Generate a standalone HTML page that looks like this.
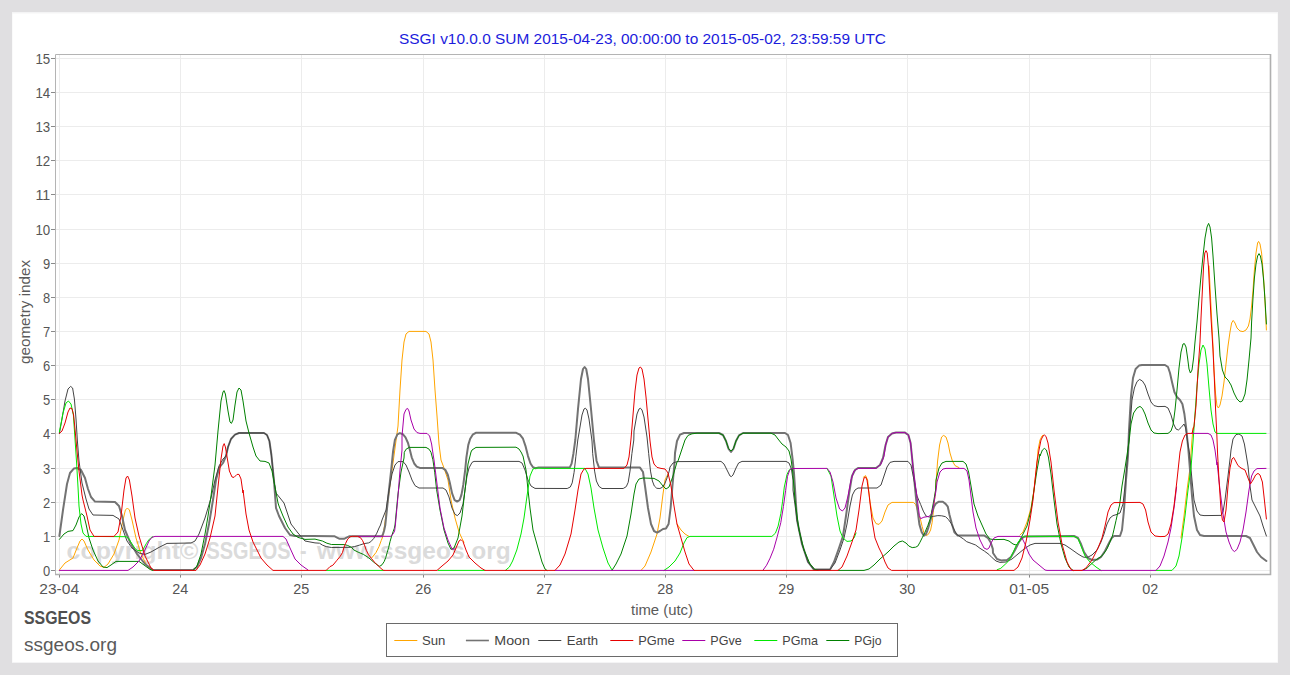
<!DOCTYPE html><html><head><meta charset="utf-8"><title>SSGI</title><style>html,body{margin:0;padding:0;background:#e0dfe1;width:1290px;height:675px;overflow:hidden;font-family:"Liberation Sans",sans-serif}</style></head><body><svg width="1290" height="675" viewBox="0 0 1290 675" style="position:absolute;left:0;top:0;font-family:'Liberation Sans',sans-serif">
<rect x="12" y="12" width="1266" height="651" fill="#f4f4f5"/>
<rect x="12.5" y="13.5" width="1265" height="648.5" fill="#ffffff"/>
<line x1="56" y1="570.5" x2="1271" y2="570.5" stroke="#ececec" stroke-width="1"/>
<line x1="56" y1="536.5" x2="1271" y2="536.5" stroke="#ececec" stroke-width="1"/>
<line x1="56" y1="502.5" x2="1271" y2="502.5" stroke="#ececec" stroke-width="1"/>
<line x1="56" y1="468.5" x2="1271" y2="468.5" stroke="#ececec" stroke-width="1"/>
<line x1="56" y1="433.5" x2="1271" y2="433.5" stroke="#ececec" stroke-width="1"/>
<line x1="56" y1="399.5" x2="1271" y2="399.5" stroke="#ececec" stroke-width="1"/>
<line x1="56" y1="365.5" x2="1271" y2="365.5" stroke="#ececec" stroke-width="1"/>
<line x1="56" y1="331.5" x2="1271" y2="331.5" stroke="#ececec" stroke-width="1"/>
<line x1="56" y1="297.5" x2="1271" y2="297.5" stroke="#ececec" stroke-width="1"/>
<line x1="56" y1="263.5" x2="1271" y2="263.5" stroke="#ececec" stroke-width="1"/>
<line x1="56" y1="229.5" x2="1271" y2="229.5" stroke="#ececec" stroke-width="1"/>
<line x1="56" y1="194.5" x2="1271" y2="194.5" stroke="#ececec" stroke-width="1"/>
<line x1="56" y1="160.5" x2="1271" y2="160.5" stroke="#ececec" stroke-width="1"/>
<line x1="56" y1="126.5" x2="1271" y2="126.5" stroke="#ececec" stroke-width="1"/>
<line x1="56" y1="92.5" x2="1271" y2="92.5" stroke="#ececec" stroke-width="1"/>
<line x1="56" y1="58.5" x2="1271" y2="58.5" stroke="#ececec" stroke-width="1"/>
<line x1="59.5" y1="55" x2="59.5" y2="574" stroke="#ececec" stroke-width="1"/>
<line x1="180.5" y1="55" x2="180.5" y2="574" stroke="#ececec" stroke-width="1"/>
<line x1="301.5" y1="55" x2="301.5" y2="574" stroke="#ececec" stroke-width="1"/>
<line x1="423.5" y1="55" x2="423.5" y2="574" stroke="#ececec" stroke-width="1"/>
<line x1="544.5" y1="55" x2="544.5" y2="574" stroke="#ececec" stroke-width="1"/>
<line x1="665.5" y1="55" x2="665.5" y2="574" stroke="#ececec" stroke-width="1"/>
<line x1="786.5" y1="55" x2="786.5" y2="574" stroke="#ececec" stroke-width="1"/>
<line x1="907.5" y1="55" x2="907.5" y2="574" stroke="#ececec" stroke-width="1"/>
<line x1="1029.5" y1="55" x2="1029.5" y2="574" stroke="#ececec" stroke-width="1"/>
<line x1="1150.5" y1="55" x2="1150.5" y2="574" stroke="#ececec" stroke-width="1"/>
<text x="66.6" y="558.5" font-size="24" font-weight="bold" fill="#dbdbdb" textLength="131.8" lengthAdjust="spacingAndGlyphs">copyright©</text>
<text x="206.6" y="558.5" font-size="24" font-weight="bold" fill="#dbdbdb" textLength="84.0" lengthAdjust="spacingAndGlyphs">SSGEOS</text>
<text x="300.0" y="558.5" font-size="24" font-weight="bold" fill="#dbdbdb" textLength="6.5" lengthAdjust="spacingAndGlyphs">-</text>
<text x="317.0" y="558.5" font-size="24" font-weight="bold" fill="#dbdbdb" textLength="193.8" lengthAdjust="spacingAndGlyphs">www.ssgeos.org</text>
<path d="M55.5 574.5V54.5H1270.5" fill="none" stroke="#b4b4b4" stroke-width="1"/>
<path d="M1270.5 54V574.5H55" fill="none" stroke="#b0b0b0" stroke-width="1.6"/>
<line x1="51" y1="570.5" x2="55" y2="570.5" stroke="#8a8a8a" stroke-width="1"/>
<text x="50.2" y="575.8" font-size="15" fill="#555" text-anchor="end" textLength="7.2" lengthAdjust="spacingAndGlyphs">0</text>
<line x1="51" y1="536.5" x2="55" y2="536.5" stroke="#8a8a8a" stroke-width="1"/>
<text x="50.2" y="541.8" font-size="15" fill="#555" text-anchor="end" textLength="7.2" lengthAdjust="spacingAndGlyphs">1</text>
<line x1="51" y1="502.5" x2="55" y2="502.5" stroke="#8a8a8a" stroke-width="1"/>
<text x="50.2" y="507.8" font-size="15" fill="#555" text-anchor="end" textLength="7.2" lengthAdjust="spacingAndGlyphs">2</text>
<line x1="51" y1="468.5" x2="55" y2="468.5" stroke="#8a8a8a" stroke-width="1"/>
<text x="50.2" y="473.8" font-size="15" fill="#555" text-anchor="end" textLength="7.2" lengthAdjust="spacingAndGlyphs">3</text>
<line x1="51" y1="433.5" x2="55" y2="433.5" stroke="#8a8a8a" stroke-width="1"/>
<text x="50.2" y="438.8" font-size="15" fill="#555" text-anchor="end" textLength="7.2" lengthAdjust="spacingAndGlyphs">4</text>
<line x1="51" y1="399.5" x2="55" y2="399.5" stroke="#8a8a8a" stroke-width="1"/>
<text x="50.2" y="404.8" font-size="15" fill="#555" text-anchor="end" textLength="7.2" lengthAdjust="spacingAndGlyphs">5</text>
<line x1="51" y1="365.5" x2="55" y2="365.5" stroke="#8a8a8a" stroke-width="1"/>
<text x="50.2" y="370.8" font-size="15" fill="#555" text-anchor="end" textLength="7.2" lengthAdjust="spacingAndGlyphs">6</text>
<line x1="51" y1="331.5" x2="55" y2="331.5" stroke="#8a8a8a" stroke-width="1"/>
<text x="50.2" y="336.8" font-size="15" fill="#555" text-anchor="end" textLength="7.2" lengthAdjust="spacingAndGlyphs">7</text>
<line x1="51" y1="297.5" x2="55" y2="297.5" stroke="#8a8a8a" stroke-width="1"/>
<text x="50.2" y="302.8" font-size="15" fill="#555" text-anchor="end" textLength="7.2" lengthAdjust="spacingAndGlyphs">8</text>
<line x1="51" y1="263.5" x2="55" y2="263.5" stroke="#8a8a8a" stroke-width="1"/>
<text x="50.2" y="268.8" font-size="15" fill="#555" text-anchor="end" textLength="7.2" lengthAdjust="spacingAndGlyphs">9</text>
<line x1="51" y1="229.5" x2="55" y2="229.5" stroke="#8a8a8a" stroke-width="1"/>
<text x="50.2" y="234.8" font-size="15" fill="#555" text-anchor="end" textLength="14.8" lengthAdjust="spacingAndGlyphs">10</text>
<line x1="51" y1="194.5" x2="55" y2="194.5" stroke="#8a8a8a" stroke-width="1"/>
<text x="50.2" y="199.8" font-size="15" fill="#555" text-anchor="end" textLength="14.8" lengthAdjust="spacingAndGlyphs">11</text>
<line x1="51" y1="160.5" x2="55" y2="160.5" stroke="#8a8a8a" stroke-width="1"/>
<text x="50.2" y="165.8" font-size="15" fill="#555" text-anchor="end" textLength="14.8" lengthAdjust="spacingAndGlyphs">12</text>
<line x1="51" y1="126.5" x2="55" y2="126.5" stroke="#8a8a8a" stroke-width="1"/>
<text x="50.2" y="131.8" font-size="15" fill="#555" text-anchor="end" textLength="14.8" lengthAdjust="spacingAndGlyphs">13</text>
<line x1="51" y1="92.5" x2="55" y2="92.5" stroke="#8a8a8a" stroke-width="1"/>
<text x="50.2" y="97.8" font-size="15" fill="#555" text-anchor="end" textLength="14.8" lengthAdjust="spacingAndGlyphs">14</text>
<line x1="51" y1="58.5" x2="55" y2="58.5" stroke="#8a8a8a" stroke-width="1"/>
<text x="50.2" y="63.8" font-size="15" fill="#555" text-anchor="end" textLength="14.8" lengthAdjust="spacingAndGlyphs">15</text>
<line x1="59.5" y1="575" x2="59.5" y2="577.6" stroke="#8a8a8a" stroke-width="1"/>
<text x="59.2" y="594.2" font-size="15" fill="#555" text-anchor="middle" textLength="39.8" lengthAdjust="spacingAndGlyphs">23-04</text>
<line x1="180.5" y1="575" x2="180.5" y2="577.6" stroke="#8a8a8a" stroke-width="1"/>
<text x="180.2" y="594.2" font-size="15" fill="#555" text-anchor="middle" textLength="16.0" lengthAdjust="spacingAndGlyphs">24</text>
<line x1="301.5" y1="575" x2="301.5" y2="577.6" stroke="#8a8a8a" stroke-width="1"/>
<text x="301.2" y="594.2" font-size="15" fill="#555" text-anchor="middle" textLength="16.0" lengthAdjust="spacingAndGlyphs">25</text>
<line x1="423.5" y1="575" x2="423.5" y2="577.6" stroke="#8a8a8a" stroke-width="1"/>
<text x="423.2" y="594.2" font-size="15" fill="#555" text-anchor="middle" textLength="16.0" lengthAdjust="spacingAndGlyphs">26</text>
<line x1="544.5" y1="575" x2="544.5" y2="577.6" stroke="#8a8a8a" stroke-width="1"/>
<text x="544.2" y="594.2" font-size="15" fill="#555" text-anchor="middle" textLength="16.0" lengthAdjust="spacingAndGlyphs">27</text>
<line x1="665.5" y1="575" x2="665.5" y2="577.6" stroke="#8a8a8a" stroke-width="1"/>
<text x="665.2" y="594.2" font-size="15" fill="#555" text-anchor="middle" textLength="16.0" lengthAdjust="spacingAndGlyphs">28</text>
<line x1="786.5" y1="575" x2="786.5" y2="577.6" stroke="#8a8a8a" stroke-width="1"/>
<text x="786.2" y="594.2" font-size="15" fill="#555" text-anchor="middle" textLength="16.0" lengthAdjust="spacingAndGlyphs">29</text>
<line x1="907.5" y1="575" x2="907.5" y2="577.6" stroke="#8a8a8a" stroke-width="1"/>
<text x="907.2" y="594.2" font-size="15" fill="#555" text-anchor="middle" textLength="16.0" lengthAdjust="spacingAndGlyphs">30</text>
<line x1="1029.5" y1="575" x2="1029.5" y2="577.6" stroke="#8a8a8a" stroke-width="1"/>
<text x="1029.2" y="594.2" font-size="15" fill="#555" text-anchor="middle" textLength="39.8" lengthAdjust="spacingAndGlyphs">01-05</text>
<line x1="1150.5" y1="575" x2="1150.5" y2="577.6" stroke="#8a8a8a" stroke-width="1"/>
<text x="1150.2" y="594.2" font-size="15" fill="#555" text-anchor="middle" textLength="16.0" lengthAdjust="spacingAndGlyphs">02</text>
<clipPath id="c"><rect x="56" y="55" width="1214.5" height="519.5"/></clipPath><g clip-path="url(#c)" fill="none" stroke-linejoin="round" stroke-linecap="round">
<path d="M59.4 570.0 L65.0 563.0 L73.0 558.0 L77.0 548.0 L80.0 541.0 L82.0 539.0 L84.0 541.0 L88.0 550.0 L94.0 560.0 L100.0 566.0 L104.0 567.4 L108.0 564.0 L114.0 554.0 L119.0 540.0 L123.0 520.0 L125.4 510.0 L127.4 508.0 L129.4 510.0 L132.0 520.0 L136.0 538.0 L141.0 554.0 L147.0 566.0 L151.0 570.0 M371.9 557.7 L376.0 552.5 L379.0 546.6 L381.2 540.6 L382.7 536.9 L384.2 528.0 L398.0 426.0 L400.0 390.0 L402.0 360.0 L404.0 342.0 L406.0 334.0 L409.0 331.4 L426.0 331.4 L429.0 334.0 L431.0 342.0 L433.0 360.0 L435.0 390.0 L437.0 416.0 L439.0 444.0 L441.0 460.0 L444.0 468.0 L448.0 480.0 L451.0 500.0 L455.0 518.0 L459.0 532.0 L462.2 538.9 L463.9 542.2 M641.0 570.4 L645.0 566.0 L651.0 552.0 L657.0 534.0 L660.0 518.0 L663.0 494.0 L665.0 480.0 L667.0 476.0 L668.0 474.0 M677.0 524.0 L681.0 530.0 L685.0 534.0 L689.0 536.4 M863.2 477.4 L865.6 475.6 L867.6 480.0 L870.0 502.0 L873.0 518.0 L876.0 523.6 L879.0 524.4 L882.0 521.0 L885.0 512.0 L888.0 505.0 L892.0 502.4 L900.0 502.4 L913.3 502.4 L915.6 504.4 L916.9 508.3 L918.3 513.9 L920.6 520.0 L922.2 526.7 L923.9 532.8 L926.1 535.6 L928.3 534.4 L930.6 530.0 L932.2 522.2 L933.3 512.2 L934.4 501.1 L935.3 493.3 L937.6 461.0 L939.6 445.0 L941.6 437.0 L943.6 435.4 L946.0 437.0 L948.0 443.0 L950.0 453.0 L952.4 461.0 L955.0 465.6 L959.0 467.6 M1020.0 535.0 L1023.0 532.0 L1027.0 522.0 L1031.0 508.0 L1034.0 490.0 L1036.0 472.0 L1037.6 456.0 L1038.0 450.0 L1040.0 440.0 L1042.0 436.0 L1043.0 435.2 M1181.0 538.0 L1184.0 516.0 L1187.0 490.0 L1190.0 468.0 L1191.8 442.0 L1193.0 428.0 M1209.0 266.0 L1210.2 290.0 L1211.6 318.0 L1213.2 350.0 L1214.0 370.0 L1215.6 394.0 L1217.0 406.0 L1218.4 408.0 L1220.0 405.0 L1222.0 396.0 L1224.0 382.0 L1226.0 364.0 L1228.0 346.0 L1230.0 332.0 L1231.6 323.0 L1233.2 320.4 L1235.0 323.0 L1237.0 328.0 L1240.0 331.0 L1243.0 331.6 L1246.0 330.0 L1248.4 326.0 L1250.0 319.0 L1251.6 306.0 L1253.0 290.0 L1254.4 270.0 L1256.0 253.0 L1257.6 243.0 L1258.6 241.4 L1260.0 244.0 L1261.6 253.0 L1263.0 270.0 L1264.4 290.0 L1265.6 314.0 L1266.4 330.0" stroke="#ffa500" stroke-width="1.0"/>
<path d="M59.4 536.0 L63.0 510.0 L67.0 484.0 L70.0 473.0 L74.0 468.4 L77.0 468.0 L81.0 470.0 L85.0 478.0 L88.0 489.0 L91.0 497.0 L95.0 501.6 L115.0 502.0 L119.0 506.0 L122.0 516.0 L125.0 530.0 L130.0 542.0 L137.0 554.0 L145.0 564.0 L153.0 570.0 L193.0 570.0 L197.0 567.0 L201.0 558.0 L205.0 544.0 L209.0 524.0 L213.0 500.0 L216.0 480.0 L219.0 468.0 L223.0 463.0 L226.0 456.0 L228.0 447.0 L231.0 439.0 L235.0 434.6 L239.0 433.0 L264.0 433.0 L267.0 435.0 L269.4 441.0 L271.4 455.0 L274.0 481.0 L276.0 508.0 L279.0 516.0 L285.0 528.0 L290.0 535.0 L295.0 536.0 L313.0 536.0 L334.3 536.2 L336.6 537.3 L339.6 538.8 L344.0 538.8 L347.0 537.3 L349.6 536.2 L382.0 536.2 L383.1 533.9 L384.2 530.2 L385.3 525.0 L387.5 504.0 L389.3 487.2 L391.2 469.8 L393.1 451.1 L394.9 439.9 L397.4 434.3 L399.9 433.1 L403.0 434.3 L405.5 437.4 L408.0 443.0 L409.9 449.9 L411.7 457.3 L414.2 463.5 L416.7 466.6 L419.8 467.9 L442.2 467.9 L445.3 469.8 L447.8 474.7 L449.7 482.2 L452.1 493.4 L454.6 500.2 L457.1 501.5 L459.6 500.2 L461.5 494.6 L463.3 484.7 L465.2 469.8 L466.4 457.3 L468.3 444.9 L470.2 438.7 L472.7 434.7 L475.8 432.8 L516.2 432.8 L519.9 434.7 L523.0 438.7 L525.5 446.1 L528.0 456.1 L530.5 463.5 L533.0 467.3 L535.5 468.3 L538.6 467.6 L569.7 467.6 L571.6 463.6 L573.4 453.7 L575.3 440.0 L578.0 409.0 L581.0 379.0 L583.0 369.0 L584.6 367.0 L586.2 369.0 L588.0 379.0 L591.0 409.0 L594.0 441.0 L596.6 461.0 L599.0 467.6 L640.0 467.6 L643.0 472.0 L645.0 486.0 L648.0 508.0 L651.0 524.0 L654.0 531.0 L657.0 532.6 L660.0 531.0 L663.0 529.0 L666.0 528.6 L668.6 524.0 L670.6 508.0 L672.6 484.0 L674.6 462.0 L675.0 453.0 L677.0 441.0 L680.0 434.6 L684.0 433.0 L719.0 433.0 L723.0 435.0 L726.0 441.0 L728.6 449.0 L731.0 452.0 L733.4 449.0 L736.0 441.0 L739.0 435.4 L743.0 433.0 L785.0 433.0 L788.0 435.0 L790.6 443.0 L792.6 459.0 L794.0 473.0 L797.0 520.0 L802.0 544.0 L808.0 562.0 L814.0 569.6 L830.0 569.6 L834.0 562.0 L839.0 548.0 L843.0 536.0 L846.0 516.0 L849.0 494.0 L852.0 476.0 L855.0 470.0 L858.0 468.0 L876.0 468.0 L880.0 465.0 L883.0 458.0 L885.6 445.0 L888.0 437.0 L892.0 433.4 L896.0 432.6 L905.0 432.6 L908.4 435.0 L910.6 443.0 L912.0 457.0 L913.6 473.0 L916.1 498.9 L917.8 512.2 L919.4 524.4 L921.7 532.2 L923.9 535.6 L926.1 533.9 L928.3 527.8 L930.6 520.0 L932.2 512.2 L933.9 506.7 L936.1 503.3 L938.9 501.7 L942.8 501.7 L945.6 503.9 L947.8 506.7 L949.4 514.4 L951.7 523.3 L954.4 532.2 L957.8 535.6 L984.4 535.6 L987.8 537.8 L990.6 542.2 L992.8 548.9 L993.0 553.0 L997.0 559.0 L1001.0 560.4 L1007.0 560.0 L1011.0 557.0 L1015.0 550.0 L1019.0 542.0 L1022.0 538.0 L1025.0 536.4 L1074.0 536.0 L1078.0 538.0 L1081.0 544.0 L1084.0 552.0 L1088.0 558.0 L1092.0 560.0 L1097.0 559.6 L1101.0 557.0 L1105.0 551.0 L1109.0 543.0 L1112.0 537.6 L1114.0 536.0 L1120.0 536.0 L1122.0 530.0 L1124.0 510.0 L1126.0 480.0 L1128.0 456.0 L1129.0 430.0 L1131.0 396.0 L1133.0 378.0 L1135.6 369.0 L1139.0 365.6 L1142.0 365.0 L1165.0 365.0 L1168.0 367.0 L1170.0 373.0 L1172.0 382.0 L1174.4 392.0 L1177.0 397.0 L1180.0 400.0 L1182.4 404.0 L1184.4 414.0 L1186.4 430.0 L1188.4 450.0 L1190.0 470.0 L1192.0 496.0 L1194.0 516.0 L1197.0 530.0 L1200.0 535.0 L1204.0 536.0 L1246.0 536.0 L1250.0 538.0 L1253.0 544.0 L1257.0 552.0 L1261.0 557.0 L1266.4 561.0" stroke="#737373" stroke-width="2.0"/>
<path d="M59.4 433.4 L62.0 419.0 L65.0 401.0 L68.0 389.0 L70.6 386.4 L72.6 388.0 L74.4 399.0 L76.0 419.0 L77.4 441.0 L79.0 461.0 L82.0 483.0 L86.0 499.0 L89.0 509.0 L93.0 515.0 L113.0 515.4 L119.0 519.0 L123.0 530.0 L127.0 541.0 L132.0 548.0 L139.0 553.0 L145.0 554.4 L151.0 552.0 L159.0 547.4 L167.0 543.4 L191.0 543.0 L195.0 541.0 L199.0 534.0 L205.0 518.0 L211.0 498.0 L215.0 480.0 L219.0 466.0 L223.0 459.0 L226.0 456.0 L228.0 447.0 L231.0 439.0 L235.0 434.6 L239.0 433.0 L264.0 433.0 L267.0 435.0 L269.4 441.0 L271.4 455.0 L274.0 481.0 L276.0 493.0 L280.0 498.0 L284.0 503.0 L287.0 512.0 L291.0 524.0 L298.0 533.0 L305.0 541.0 L315.0 542.9 L319.5 543.2 L322.4 545.1 L326.2 546.6 L331.4 547.5 L350.7 547.3 L354.4 546.6 L359.6 545.1 L364.1 543.6 L368.6 542.9 L370.8 541.7 L373.8 538.4 L376.8 533.2 L379.0 528.0 L380.5 525.0 L382.0 520.0 L386.0 510.0 L389.0 490.0 L392.0 474.0 L395.0 465.0 L398.0 461.6 L403.0 461.6 L406.0 465.0 L409.0 472.0 L412.0 480.0 L415.0 485.6 L419.0 488.0 L443.0 488.0 L446.0 490.0 L449.0 497.0 L452.0 508.0 L455.0 514.4 L457.4 515.6 L460.0 513.0 L463.0 504.0 L465.0 490.0 L467.0 476.0 L469.0 468.0 L472.0 462.4 L474.0 461.4 L519.0 461.4 L522.0 463.0 L525.0 470.0 L528.0 480.0 L531.0 486.0 L535.0 488.4 L567.2 488.5 L570.3 487.0 L572.2 482.9 L574.1 472.3 L575.9 456.2 L577.8 440.0 L579.0 433.0 L582.0 415.0 L584.0 409.0 L585.4 408.2 L587.0 410.0 L589.0 419.0 L592.0 441.0 L592.7 453.7 L594.6 471.1 L596.4 481.0 L598.9 486.3 L602.0 488.5 L623.2 488.5 L626.3 486.6 L628.2 482.3 L630.0 471.1 L631.9 453.7 L633.8 440.0 L634.0 431.0 L637.0 414.0 L639.0 409.0 L640.4 408.2 L642.0 410.0 L644.0 417.0 L647.0 437.0 L648.7 453.7 L650.5 471.1 L652.4 481.0 L654.3 486.0 L656.8 488.3 L659.9 488.5 L662.4 487.3 L664.9 483.5 L667.3 477.3 L669.2 471.1 L670.0 467.0 L673.0 463.0 L677.0 461.6 L721.0 461.4 L724.0 464.0 L727.0 470.0 L730.0 476.0 L731.4 476.6 L733.0 475.0 L736.0 468.0 L738.6 463.0 L742.0 461.4 L786.0 461.4 L789.0 463.0 L791.4 469.0 L793.0 480.0 L793.0 490.0 L797.0 520.0 L802.0 544.0 L808.0 562.0 L814.0 569.6 L830.0 569.6 L835.0 563.0 L840.0 550.0 L844.0 538.0 L847.0 524.0 L850.0 506.0 L852.4 495.0 L855.0 490.0 L858.0 488.0 L877.0 488.0 L881.0 485.0 L884.0 476.0 L887.0 467.0 L890.0 462.4 L894.0 461.4 L908.0 461.4 L911.0 465.0 L914.0 480.0 L917.0 496.0 L920.6 504.4 L923.3 511.1 L926.1 516.1 L930.0 517.2 L933.3 516.4 L937.8 515.6 L941.7 515.8 L945.6 516.7 L948.3 519.4 L951.1 523.3 L954.4 530.0 L956.7 534.4 L960.0 536.7 L963.3 538.9 L966.7 541.7 L971.1 543.3 L975.6 545.0 L980.0 548.3 L984.4 551.1 L988.9 554.4 L992.2 557.8 L996.0 561.0 L1000.0 562.4 L1006.0 562.0 L1012.0 559.0 L1018.0 554.0 L1024.0 549.0 L1030.0 545.0 L1035.0 543.4 L1035.0 543.4 L1060.0 543.4 L1065.0 545.0 L1071.0 549.0 L1078.0 554.0 L1083.0 557.0 L1087.0 557.6 L1092.0 555.0 L1097.0 550.0 L1101.0 542.0 L1104.0 534.0 L1107.0 524.0 L1110.0 518.0 L1113.0 515.6 L1117.0 514.4 L1120.0 513.0 L1123.0 504.0 L1125.0 486.0 L1127.0 462.0 L1130.0 426.0 L1132.0 400.0 L1134.4 388.0 L1137.0 381.6 L1139.6 379.4 L1142.4 381.0 L1145.0 385.0 L1148.0 394.0 L1151.0 402.0 L1154.0 405.6 L1158.0 406.6 L1165.0 406.4 L1168.0 408.0 L1171.0 415.0 L1173.6 424.0 L1176.0 429.0 L1178.4 430.0 L1181.0 427.6 L1184.0 424.0 L1185.6 428.0 L1187.6 442.0 L1189.6 454.0 L1192.0 480.0 L1194.0 500.0 L1197.0 511.0 L1200.0 515.0 L1204.0 515.6 L1221.0 515.4 L1223.0 512.0 L1225.0 500.0 L1228.0 476.0 L1230.4 456.0 L1231.0 450.0 L1233.0 439.0 L1236.0 434.6 L1239.0 434.0 L1242.0 436.0 L1244.4 444.0 L1246.4 456.0 L1248.0 466.0 L1250.0 486.0 L1252.0 500.0 L1256.0 508.0 L1260.0 516.0 L1263.0 526.0 L1266.4 536.0" stroke="#444444" stroke-width="1.0"/>
<path d="M59.4 539.4 L64.0 534.0 L68.0 531.4 L73.0 530.6 L76.0 525.0 L79.0 517.0 L81.6 513.6 L84.0 516.0 L86.0 524.0 L89.0 538.0 L93.0 550.0 L98.0 561.0 L103.0 567.0 L107.0 567.6 L111.0 565.0 L116.0 561.4 L139.0 561.4 L144.0 565.0 L150.0 569.4 L153.0 570.4 M193.0 570.4 L197.0 566.0 L201.0 554.0 L205.0 534.0 L208.0 516.0 L211.0 496.0 L215.0 465.0 L218.0 431.0 L221.0 401.0 L223.0 392.0 L224.0 390.6 L225.4 394.0 L228.0 411.0 L230.0 422.0 L231.4 423.4 L233.0 420.0 L235.0 405.0 L237.0 392.0 L239.0 388.0 L241.0 390.0 L243.0 401.0 L246.0 421.0 L249.0 433.0 L253.0 447.0 L256.0 456.0 L260.0 461.0 L265.0 461.4 L269.0 463.0 L272.0 471.0 L275.0 487.0 L278.0 503.0 L279.0 506.0 L283.0 516.0 L288.0 527.0 L293.0 534.0 L298.0 537.4 L305.0 539.4 L315.0 539.1 L318.0 539.9 L322.4 541.0 L326.9 543.2 L331.4 544.5 L344.8 544.6 L347.7 545.5 L351.5 547.3 L353.7 549.9 L358.2 552.2 L363.4 554.4 L368.6 557.7 L373.8 562.2 L378.2 565.6 L379.7 566.3 L382.0 564.8 L384.2 561.5 L385.7 557.7 L387.2 552.5 L388.7 547.3 L390.1 541.4 L391.6 536.2 L393.1 531.7 L394.2 528.7 L395.0 525.0 L398.0 494.0 L401.0 472.0 L404.0 458.0 L404.3 452.3 L406.1 449.2 L409.2 447.4 L426.0 447.4 L429.1 449.2 L431.0 452.3 L432.9 459.8 L434.7 472.2 L436.6 489.7 L440.0 510.0 L444.0 530.0 L448.0 543.0 L451.0 549.4 L454.0 548.0 L458.0 538.0 L462.0 516.0 L465.0 490.0 L468.0 464.0 L471.0 452.0 L472.0 450.0 L476.0 447.4 L516.0 447.2 L519.0 449.0 L521.6 453.0 L522.4 455.0 L523.0 456.0 L526.0 470.0 L528.0 490.0 L530.0 508.0 L533.0 530.0 L538.0 548.0 L542.0 562.0 L545.0 569.0 L547.0 570.4 M612.0 570.4 L616.0 564.0 L621.0 554.0 L627.0 536.0 L631.0 514.0 L634.0 494.0 L636.0 484.0 L639.0 479.0 L643.0 478.0 L654.0 478.4 L659.0 481.0 L663.0 486.0 L666.0 489.0 L669.0 487.0 L673.0 476.0 L677.0 462.0 L678.0 461.0 L682.0 449.0 L685.0 440.0 L688.0 435.4 L692.0 433.8 L697.0 433.2 L719.0 433.2 L723.0 435.0 L726.0 441.0 L728.6 448.6 L731.0 451.0 L733.4 448.6 L736.0 441.0 L739.0 435.4 L743.0 433.2 L771.0 433.2 L775.0 435.0 L778.0 439.0 L782.0 444.0 L786.0 447.0 L789.0 451.0 L791.0 459.0 L792.6 471.0 L795.0 500.0 L799.0 530.0 L804.0 550.0 L810.0 564.0 L815.0 569.6 L818.0 570.4 M838.0 570.4 L864.0 570.4 L869.0 569.0 L874.0 565.0 L880.0 559.0 L888.0 552.0 L894.0 546.0 L899.0 542.0 L902.4 541.0 L906.0 543.0 L908.9 546.1 L912.2 547.6 L915.6 547.2 L917.8 546.1 L920.0 542.2 L922.2 537.8 L925.0 532.2 L927.8 525.6 L930.6 517.8 L932.2 508.9 L933.9 500.0 L935.6 490.0 L936.0 480.0 L939.0 468.0 L942.0 463.0 L946.0 461.4 L963.0 461.4 L966.0 464.0 L968.6 472.0 L971.0 486.0 L974.0 504.0 L978.0 516.0 L982.0 525.0 L986.0 534.0 L990.0 539.0 L994.0 539.6 L1004.0 539.4 L1009.0 541.0 L1013.0 544.0 L1016.0 545.0 L1019.0 542.0 L1023.0 534.0 L1027.0 526.0 L1031.0 510.0 L1034.0 490.0 L1037.0 470.0 L1040.0 454.0 L1040.0 456.0 L1042.4 450.0 L1044.4 448.4 L1046.4 450.0 L1048.4 457.0 L1051.0 474.0 L1054.0 500.0 L1057.0 524.0 L1061.0 544.0 L1065.0 558.0 L1069.0 567.0 L1073.0 570.4 M1083.3 570.1 L1087.5 567.7 L1091.1 564.1 L1095.2 560.5 L1098.9 557.9 L1101.5 556.3 L1104.1 553.2 L1107.2 548.5 L1109.8 542.3 L1112.4 536.1 L1113.9 529.9 L1116.0 520.6 L1118.1 511.2 L1119.6 505.0 L1122.0 486.0 L1125.0 468.0 L1129.0 442.0 L1131.0 424.0 L1133.6 413.0 L1137.0 408.0 L1140.0 406.4 L1142.4 408.4 L1145.0 414.0 L1148.0 423.0 L1151.0 430.0 L1154.0 433.0 L1158.0 433.6 L1168.0 433.4 L1171.0 431.0 L1173.0 425.0 L1175.0 410.0 L1177.0 390.0 L1179.0 368.0 L1181.0 352.0 L1183.0 344.0 L1184.4 343.6 L1186.0 347.0 L1187.6 358.0 L1189.0 369.0 L1190.4 373.0 L1192.0 370.0 L1193.6 358.0 L1195.0 342.0 L1197.0 322.0 L1199.0 298.0 L1201.0 276.0 L1203.0 256.0 L1205.0 238.0 L1207.0 227.0 L1208.6 223.4 L1210.0 227.0 L1211.6 238.0 L1213.0 256.0 L1215.0 286.0 L1217.0 314.0 L1219.0 338.0 L1220.0 356.0 L1222.4 370.0 L1225.0 377.0 L1228.0 380.0 L1231.0 385.0 L1234.0 393.0 L1237.0 399.0 L1240.0 402.0 L1242.4 401.0 L1245.0 394.0 L1247.0 380.0 L1249.0 360.0 L1251.0 338.0 L1251.6 322.0 L1253.0 298.0 L1254.4 278.0 L1256.0 264.0 L1257.6 256.0 L1259.0 253.6 L1260.4 256.0 L1262.0 264.0 L1263.6 280.0 L1265.0 300.0 L1266.4 324.0" stroke="#008000" stroke-width="1.0"/>
<path d="M59.4 432.0 L63.0 413.0 L66.0 403.0 L68.4 401.0 L71.0 404.0 L73.4 415.0 L75.0 439.0 L76.6 463.0 L78.0 487.0 L79.0 506.0 L81.0 524.0 L83.0 533.0 L86.0 536.4 L126.1 536.7 L128.5 538.3 L131.8 543.6 L135.0 548.5 L137.5 550.6 L142.4 550.6 L144.0 547.7 L146.3 543.6 L148.7 540.0 L151.2 537.5 L153.0 536.7 M326.0 570.4 L384.0 570.4 M438.0 570.4 L485.0 570.4 M505.4 570.4 L509.4 567.0 L512.6 561.0 L516.8 550.0 L521.0 534.0 L524.0 518.0 L527.0 496.0 L530.0 476.0 L533.0 469.0 L536.0 468.0 L545.0 468.4 L585.0 468.4 L588.0 474.0 L591.0 488.0 L594.0 508.0 L598.0 530.0 L603.0 548.0 L608.0 563.0 L612.0 570.0 M664.0 570.4 L669.0 567.0 L675.0 561.0 L680.0 553.0 L684.0 543.0 L687.0 537.6 L690.0 536.4 L771.9 536.4 L775.4 533.2 L778.1 526.1 L780.8 513.7 L782.6 501.2 L784.3 487.0 L787.0 474.6 L789.1 470.1 L791.4 468.5 M827.0 468.4 L831.0 476.0 L834.0 496.0 L837.0 516.0 L840.0 531.0 L843.0 538.0 L847.0 541.4 L851.0 541.0 L854.0 538.0 L856.0 533.0 M997.2 569.7 L1000.8 568.3 L1005.2 564.3 L1007.9 561.7 L1010.6 557.7 L1013.2 552.3 L1015.9 546.1 L1018.6 541.7 L1021.2 538.1 L1023.4 536.8 L1024.8 536.3 L1074.0 536.4 L1078.0 538.4 L1081.0 546.0 L1085.0 556.0 L1090.0 562.0 L1096.0 567.0 L1101.0 570.4 M1156.0 570.4 L1172.0 570.4 L1176.0 566.0 L1179.0 556.0 L1182.0 538.0 L1185.0 516.0 L1188.0 490.0 L1191.0 468.0 L1193.0 442.0 L1195.0 414.0 L1197.0 386.0 L1199.0 364.0 L1201.0 350.0 L1203.0 345.0 L1205.0 349.0 L1207.0 364.0 L1209.0 388.0 L1211.0 410.0 L1213.0 424.0 L1215.0 432.0 L1217.0 433.4 L1266.0 433.4" stroke="#00e800" stroke-width="1.0"/>
<path d="M59.4 570.4 L128.0 570.4 L133.0 567.0 L139.0 561.0 L144.0 552.0 L149.0 541.0 L152.0 537.4 L155.0 536.4 L283.0 536.4 L286.0 539.0 L290.0 548.0 L295.0 559.0 L301.0 565.0 L308.0 570.0 M358.2 536.3 L390.9 536.3 L393.1 533.9 L394.6 531.0 L395.4 525.0 L398.0 496.0 L400.0 470.0 L402.0 450.0 L402.0 436.0 L404.0 414.0 L406.0 409.4 L407.6 408.4 L409.0 411.0 L411.0 420.0 L414.0 429.0 L417.0 432.6 L420.0 433.4 L427.0 433.4 L429.6 436.0 L431.6 444.0 L433.2 455.0 L434.0 460.0 L437.0 484.0 L440.0 508.0 L444.0 528.0 L448.0 540.0 L452.2 549.4 L455.0 548.9 M555.0 570.4 L694.0 570.4 M763.0 570.2 L766.6 565.2 L770.1 558.1 L773.7 549.2 L777.2 536.8 L780.8 522.6 L783.4 506.6 L785.6 490.6 L787.5 476.3 L789.7 470.1 L791.4 468.5 L827.0 468.4 L830.0 472.0 L833.0 482.0 L836.0 498.0 L839.6 509.0 L842.4 511.0 L845.0 508.0 L848.0 496.0 L851.0 480.0 L854.0 471.0 L858.0 468.4 L876.0 468.4 L881.0 464.0 L884.0 456.0 L885.6 445.0 L888.0 437.0 L892.0 433.4 L896.0 432.6 L905.0 432.6 L908.4 435.0 L910.6 443.0 L912.0 457.0 L913.6 473.0 L916.1 490.0 L917.8 503.3 L919.4 515.6 L920.6 518.7 L923.9 517.2 L928.9 516.4 L931.7 513.9 L933.3 506.7 L935.0 496.7 L936.1 490.0 L937.0 482.0 L940.0 472.0 L943.0 469.0 L946.0 468.4 L964.0 468.4 L967.0 471.0 L969.0 480.0 L971.0 496.0 L973.0 512.0 L976.0 528.0 L980.0 540.0 L984.0 548.0 L987.0 549.4 L989.0 548.0 L991.0 543.0 L994.0 538.0 L998.0 536.4 L1020.0 536.4 L1022.0 538.0 L1025.0 544.0 L1029.0 554.0 L1033.0 560.0 L1039.0 565.0 L1045.0 570.0 L1047.0 570.4 L1156.0 570.4 L1160.0 566.0 L1164.0 556.0 L1168.0 542.0 L1171.0 528.0 L1174.0 508.0 L1176.6 487.0 M1192.0 433.4 L1208.0 433.4 L1211.0 435.0 L1213.0 440.0 L1215.0 450.0 L1217.0 465.0 L1217.0 462.0 L1220.0 490.0 L1223.0 514.0 L1226.0 532.0 L1229.0 542.0 L1232.0 549.4 L1234.4 551.6 L1237.0 549.4 L1240.0 542.0 L1243.0 530.0 L1246.0 512.0 L1249.0 490.0 L1251.6 476.0 L1254.0 471.0 L1257.0 468.6 L1266.0 468.4" stroke="#a800a8" stroke-width="1.0"/>
<path d="M59.4 433.4 L62.0 431.0 L65.0 423.0 L68.0 412.0 L70.0 408.0 L72.0 408.6 L73.6 415.0 L75.0 429.0 L77.0 451.0 L79.0 471.0 L82.0 495.0 L83.0 500.0 L87.0 516.0 L90.0 530.0 L94.0 536.4 L114.0 536.4 L118.0 532.0 L121.0 516.0 L124.0 490.0 L126.0 478.0 L127.6 476.0 L129.4 480.0 L132.0 496.0 L135.0 518.0 L139.0 536.0 L145.0 556.0 L151.0 568.0 L154.0 570.4 L196.0 570.4 L200.0 565.0 L205.0 554.0 L210.0 538.0 L215.0 516.0 L218.0 487.0 L221.0 459.0 L223.0 446.0 L224.2 443.6 L225.4 447.0 L227.4 459.0 L229.4 471.0 L232.0 477.0 L234.0 477.4 L237.0 474.4 L239.0 474.4 L241.0 479.0 L243.0 493.0 L243.0 490.0 L246.0 514.0 L249.0 530.0 L253.0 542.0 L257.0 550.0 L261.0 558.0 L267.0 565.0 L273.0 570.4 L326.2 570.4 L329.9 566.7 L332.9 565.2 L336.6 560.7 L340.3 556.2 L342.5 552.5 L344.0 547.3 L345.5 543.6 L347.7 539.1 L350.0 536.9 L352.2 536.3 L357.4 536.3 L360.4 537.6 L362.6 540.6 L364.5 545.1 L366.3 550.3 L368.6 554.8 L371.5 558.5 L374.5 562.2 L378.2 565.9 L382.0 569.3 L383.5 570.4 L437.0 570.4 L442.0 566.0 L448.0 561.0 L453.0 555.0 L456.0 548.0 L459.0 541.0 L461.0 539.6 L463.0 541.6 L466.0 550.0 L469.0 557.0 L475.0 563.0 L481.0 568.0 L485.0 570.4 L554.0 570.4 L555.0 570.4 L560.0 565.0 L565.0 554.0 L571.0 534.0 L575.0 510.0 L578.0 490.0 L581.0 474.0 L584.0 469.0 L586.0 468.4 L624.0 468.4 L627.0 465.0 L629.0 457.0 L631.0 439.0 L633.0 415.0 L635.0 391.0 L637.0 375.0 L639.0 368.0 L640.4 367.0 L642.0 369.0 L644.0 379.0 L646.0 397.0 L648.0 419.0 L650.0 441.0 L652.0 457.0 L654.0 464.0 L657.0 467.4 L661.0 468.4 L665.0 469.0 L667.4 472.0 L668.0 473.0 L671.0 486.0 L674.0 506.0 L677.0 524.0 L681.0 538.0 L685.0 552.0 L689.0 564.0 L694.0 570.4 L838.0 570.4 L842.0 567.0 L847.0 556.0 L852.0 542.0 L856.0 530.0 L859.0 510.0 L862.0 486.0 L864.0 478.0 L865.6 477.0 L867.0 480.0 L869.0 494.0 L872.0 520.0 L875.0 538.0 L879.0 548.0 L882.0 554.0 L885.0 562.0 L888.0 568.0 L891.6 570.4 L1014.0 570.4 L1018.0 567.0 L1022.0 558.0 L1026.0 542.0 L1030.0 520.0 L1033.0 500.0 L1035.0 480.0 L1037.0 462.0 L1039.0 450.0 L1041.0 440.0 L1043.0 436.0 L1044.4 435.0 L1046.0 436.4 L1048.0 443.0 L1050.0 456.0 L1051.0 462.0 L1054.0 490.0 L1058.0 522.0 L1062.0 544.0 L1067.0 562.0 L1071.0 569.6 L1073.0 570.4 L1082.0 570.4 L1086.0 568.0 L1092.0 560.0 L1098.0 548.0 L1102.0 538.0 L1105.0 526.0 L1108.0 512.0 L1111.0 505.0 L1114.0 502.6 L1140.0 502.4 L1143.0 504.0 L1145.6 510.0 L1148.0 522.0 L1151.0 532.0 L1155.0 536.0 L1160.0 536.6 L1165.0 536.4 L1168.0 534.0 L1171.0 524.0 L1174.0 506.0 L1177.0 480.0 L1180.0 452.0 L1182.4 441.0 L1185.0 435.0 L1188.0 433.4 L1192.0 433.4 L1194.0 426.0 L1196.0 406.0 L1198.0 370.0 L1200.0 342.0 L1201.0 318.0 L1202.4 290.0 L1203.6 266.0 L1204.8 253.0 L1206.0 250.6 L1207.2 253.0 L1208.4 266.0 L1209.6 290.0 L1211.0 318.0 L1213.0 350.0 L1214.4 380.0 L1215.6 410.0 L1216.8 434.0 L1217.6 454.0 L1219.0 480.0 L1221.0 510.0 L1222.4 520.0 L1224.0 522.0 L1226.0 510.0 L1228.0 486.0 L1230.0 468.0 L1232.0 459.0 L1233.6 457.4 L1235.6 461.0 L1238.0 465.6 L1241.0 468.0 L1245.0 470.0 L1248.0 478.0 L1250.4 484.0 L1253.0 480.0 L1255.6 475.0 L1258.0 473.4 L1260.0 475.0 L1262.4 482.0 L1264.4 500.0 L1266.4 519.0" stroke="#e60000" stroke-width="1.0"/>
</g>
<text x="642.5" y="44" font-size="14.5" fill="#1c1cdc" text-anchor="middle" textLength="487" lengthAdjust="spacingAndGlyphs">SSGI v10.0.0 SUM 2015-04-23, 00:00:00 to 2015-05-02, 23:59:59 UTC</text>
<text x="662" y="615" font-size="14" fill="#5a5a5a" text-anchor="middle" textLength="62" lengthAdjust="spacingAndGlyphs">time (utc)</text>
<text transform="translate(30,312) rotate(-90)" font-size="14" fill="#5a5a5a" text-anchor="middle" textLength="104" lengthAdjust="spacingAndGlyphs">geometry index</text>
<text x="24" y="624" font-size="17.5" font-weight="bold" fill="#505050" textLength="67" lengthAdjust="spacingAndGlyphs">SSGEOS</text>
<text x="24" y="651" font-size="18" fill="#5a5a5a" textLength="93" lengthAdjust="spacingAndGlyphs">ssgeos.org</text>
<rect x="386.5" y="623.5" width="511" height="33" fill="#fff" stroke="#6a6a6a" stroke-width="1"/>
<line x1="394.3" y1="640.5" x2="417.3" y2="640.5" stroke="#ffa500" stroke-width="1.0"/>
<text x="421.9" y="645" font-size="13" fill="#444" textLength="23.4" lengthAdjust="spacingAndGlyphs">Sun</text>
<line x1="465.9" y1="640.5" x2="488.9" y2="640.5" stroke="#737373" stroke-width="1.6"/>
<text x="494.3" y="645" font-size="13" fill="#444" textLength="35.6" lengthAdjust="spacingAndGlyphs">Moon</text>
<line x1="538.3" y1="640.5" x2="561.3" y2="640.5" stroke="#444444" stroke-width="1.0"/>
<text x="566.7" y="645" font-size="13" fill="#444" textLength="31.4" lengthAdjust="spacingAndGlyphs">Earth</text>
<line x1="610.3" y1="640.5" x2="633.3" y2="640.5" stroke="#e60000" stroke-width="1.0"/>
<text x="638.3" y="645" font-size="13" fill="#444" textLength="36.4" lengthAdjust="spacingAndGlyphs">PGme</text>
<line x1="682.3" y1="640.5" x2="705.3" y2="640.5" stroke="#a800a8" stroke-width="1.0"/>
<text x="710.3" y="645" font-size="13" fill="#444" textLength="31.4" lengthAdjust="spacingAndGlyphs">PGve</text>
<line x1="754.3" y1="640.5" x2="777.3" y2="640.5" stroke="#00e800" stroke-width="1.0"/>
<text x="782.3" y="645" font-size="13" fill="#444" textLength="35.6" lengthAdjust="spacingAndGlyphs">PGma</text>
<line x1="826.3" y1="640.5" x2="849.3" y2="640.5" stroke="#008000" stroke-width="1.0"/>
<text x="854.3" y="645" font-size="13" fill="#444" textLength="27.2" lengthAdjust="spacingAndGlyphs">PGjo</text>
</svg></body></html>
